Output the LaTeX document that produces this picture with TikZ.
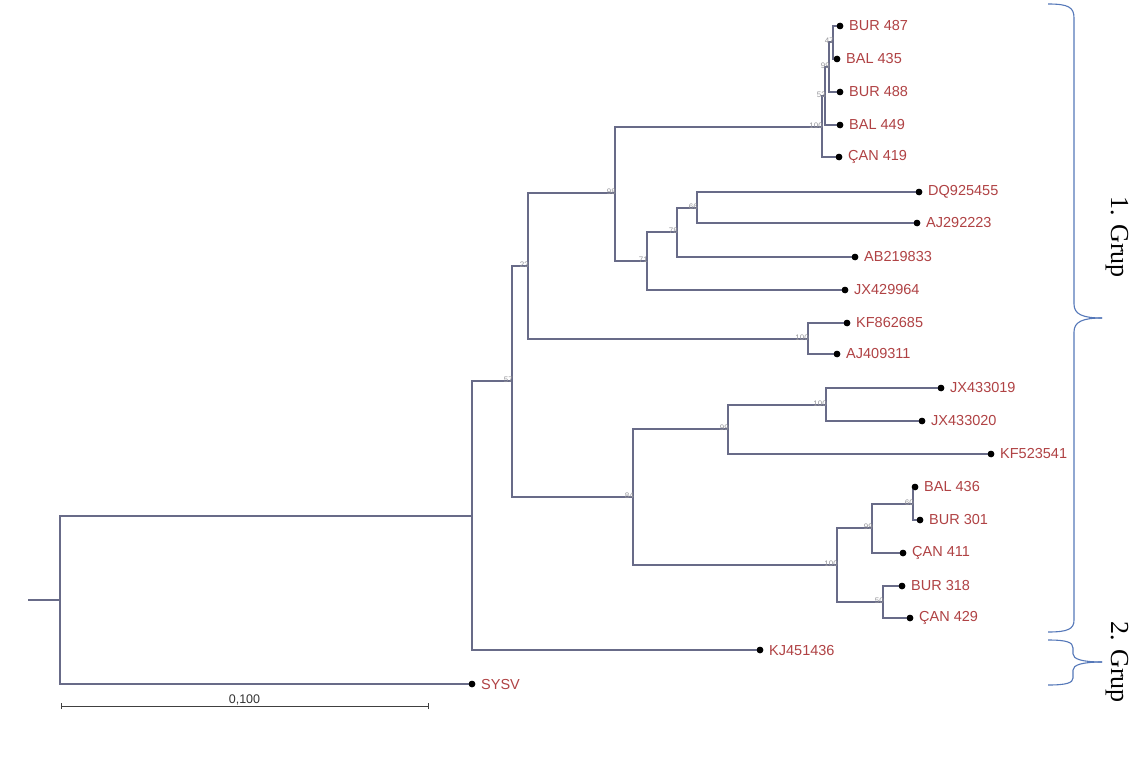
\documentclass[tikz,border=0pt]{standalone}
\usepackage{fontspec}
\setmainfont{Liberation Sans}
\newfontfamily\grpfont{Liberation Serif}
\usetikzlibrary{calc}
\definecolor{brc}{RGB}{104,107,136}
\definecolor{labc}{RGB}{176,66,68}
\definecolor{bootc}{RGB}{150,150,155}
\definecolor{bracec}{RGB}{85,120,185}
\tikzset{
  branch/.style={draw=brc, line width=1.05pt},
  leaf/.style={circle, fill=black, inner sep=0pt, minimum size=6.5pt},
  lab/.style={text=labc, font=\fontsize{14.5}{15}\selectfont, anchor=west, inner sep=0pt, xshift=9pt},
  boot/.style={text=bootc, font=\fontsize{8}{8}\selectfont, anchor=east, inner sep=0.5pt, xshift=1.5pt, yshift=1.5pt},
  grp/.style={font=\grpfont\fontsize{26}{26}\selectfont, rotate=-90, text=black},
  bracestyle/.style={draw=bracec, line width=1.1pt}
}
\begin{document}
\begin{tikzpicture}[x=1pt,y=-1pt]
\useasboundingbox[fill=white] (0,0) rectangle (1147,757);
% internal nodes
\coordinate (stub) at (28,600);
\coordinate (root) at (60,600);
\coordinate (A) at (472,516);
\coordinate (B) at (512,381);
\coordinate (C) at (528,266);
\coordinate (D) at (633,497);
\coordinate (E) at (615,193);
\coordinate (F) at (647,261);
\coordinate (G) at (677,232);
\coordinate (H) at (697,208);
\coordinate (T0) at (822,127);
\coordinate (P) at (825,96);
\coordinate (Q) at (829,67);
\coordinate (R) at (833,42);
\coordinate (KA) at (808,339);
\coordinate (I) at (728,429);
\coordinate (J) at (826,405);
\coordinate (K) at (837,565);
\coordinate (L) at (872,528);
\coordinate (M) at (913,504);
\coordinate (N) at (883,602);
% leaves
\node[leaf] (bur487) at (840,26) {};
\node[leaf] (bal435) at (837,59) {};
\node[leaf] (bur488) at (840,92) {};
\node[leaf] (bal449) at (840,125) {};
\node[leaf] (can419) at (839,157) {};
\node[leaf] (dq) at (919,192) {};
\node[leaf] (aj29) at (917,223) {};
\node[leaf] (ab) at (855,257) {};
\node[leaf] (jx42) at (845,290) {};
\node[leaf] (kf86) at (847,323) {};
\node[leaf] (aj40) at (837,354) {};
\node[leaf] (jx19) at (941,388) {};
\node[leaf] (jx20) at (922,421) {};
\node[leaf] (kf52) at (991,454) {};
\node[leaf] (bal436) at (915,487) {};
\node[leaf] (bur301) at (920,520) {};
\node[leaf] (can411) at (903,553) {};
\node[leaf] (bur318) at (902,586) {};
\node[leaf] (can429) at (910,618) {};
\node[leaf] (kj) at (760,650) {};
\node[leaf] (sysv) at (472,684) {};
% branches
\draw[branch] (stub) -- (root);
\draw[branch] (root) |- (A);
\draw[branch] (root) |- (sysv);
\draw[branch] (A) |- (B);
\draw[branch] (A) |- (kj);
\draw[branch] (B) |- (C);
\draw[branch] (B) |- (D);
\draw[branch] (C) |- (E);
\draw[branch] (C) |- (KA);
\draw[branch] (E) |- (T0);
\draw[branch] (E) |- (F);
\draw[branch] (T0) |- (P);
\draw[branch] (T0) |- (can419);
\draw[branch] (P) |- (Q);
\draw[branch] (P) |- (bal449);
\draw[branch] (Q) |- (R);
\draw[branch] (Q) |- (bur488);
\draw[branch] (R) |- (bur487);
\draw[branch] (R) |- (bal435);
\draw[branch] (F) |- (G);
\draw[branch] (F) |- (jx42);
\draw[branch] (G) |- (H);
\draw[branch] (G) |- (ab);
\draw[branch] (H) |- (dq);
\draw[branch] (H) |- (aj29);
\draw[branch] (KA) |- (kf86);
\draw[branch] (KA) |- (aj40);
\draw[branch] (D) |- (I);
\draw[branch] (D) |- (K);
\draw[branch] (I) |- (J);
\draw[branch] (I) |- (kf52);
\draw[branch] (J) |- (jx19);
\draw[branch] (J) |- (jx20);
\draw[branch] (K) |- (L);
\draw[branch] (K) |- (N);
\draw[branch] (L) |- (M);
\draw[branch] (L) |- (can411);
\draw[branch] (M) |- (bal436);
\draw[branch] (M) |- (bur301);
\draw[branch] (N) |- (bur318);
\draw[branch] (N) |- (can429);
% redraw leaves on top
\foreach \n in {bur487,bal435,bur488,bal449,can419,dq,aj29,ab,jx42,kf86,aj40,jx19,jx20,kf52,bal436,bur301,can411,bur318,can429,kj,sysv}
  \fill (\n) circle (3.25pt);
% leaf labels
\node[lab] (tbur487) at (bur487) {BUR 487};
\node[lab] (tbal435) at (bal435) {BAL 435};
\node[lab] (tbur488) at (bur488) {BUR 488};
\node[lab] (tbal449) at (bal449) {BAL 449};
\node[lab] (tcan419) at (can419) {ÇAN 419};
\node[lab] (tdq) at (dq) {DQ925455};
\node[lab] (taj29) at (aj29) {AJ292223};
\node[lab] (tab) at (ab) {AB219833};
\node[lab] (tjx42) at (jx42) {JX429964};
\node[lab] (tkf86) at (kf86) {KF862685};
\node[lab] (taj40) at (aj40) {AJ409311};
\node[lab] (tjx19) at (jx19) {JX433019};
\node[lab] (tjx20) at (jx20) {JX433020};
\node[lab] (tkf52) at (kf52) {KF523541};
\node[lab] (tbal436) at (bal436) {BAL 436};
\node[lab] (tbur301) at (bur301) {BUR 301};
\node[lab] (tcan411) at (can411) {ÇAN 411};
\node[lab] (tbur318) at (bur318) {BUR 318};
\node[lab] (tcan429) at (can429) {ÇAN 429};
\node[lab] (tkj) at (kj) {KJ451436};
\node[lab] (tsysv) at (sysv) {SYSV};
% bootstrap values
\node[boot] (bR) at (R) {47};
\node[boot] (bQ) at (Q) {99};
\node[boot] (bP) at (P) {53};
\node[boot] (bT0) at (T0) {100};
\node[boot] (bE) at (E) {98};
\node[boot] (bH) at (H) {66};
\node[boot] (bG) at (G) {78};
\node[boot] (bF) at (F) {71};
\node[boot] (bC) at (C) {23};
\node[boot] (bKA) at (KA) {100};
\node[boot] (bB) at (B) {57};
\node[boot] (bJ) at (J) {100};
\node[boot] (bI) at (I) {99};
\node[boot] (bD) at (D) {84};
\node[boot] (bM) at (M) {60};
\node[boot] (bL) at (L) {99};
\node[boot] (bK) at (K) {100};
\node[boot] (bN) at (N) {50};
% scale bar
\coordinate (sb1) at (61,706);
\coordinate (sb2) at (428,706);
\draw[draw=black!75, line width=0.9pt] (sb1) -- (sb2);
\draw[draw=black!75, line width=0.9pt] ([yshift=-3pt]sb1) -- ([yshift=3pt]sb1);
\draw[draw=black!75, line width=0.9pt] ([yshift=-3pt]sb2) -- ([yshift=3pt]sb2);
\node[font=\fontsize{12.5}{13}\selectfont, text=black!80, anchor=south, inner sep=1pt] (sblab) at ($(sb1)!0.5!(sb2)$) {0,100};
% braces
\draw[bracestyle] (1048,4) .. controls (1068,4) and (1074,7) .. (1074,18) -- (1074,304)
  .. controls (1074,314) and (1082,318) .. (1102,318);
\draw[bracestyle] (1102,318) .. controls (1082,318) and (1074,322) .. (1074,332) -- (1074,620)
  .. controls (1074,629) and (1068,632) .. (1048,632);
\draw[bracestyle] (1048,640) .. controls (1066,640) and (1073,642) .. (1073,648) -- (1073,654)
  .. controls (1073,659) and (1082,662) .. (1102,662);
\draw[bracestyle] (1102,662) .. controls (1082,662) and (1073,665) .. (1073,670) -- (1073,678)
  .. controls (1073,683) and (1066,685) .. (1048,685);
\node[grp] (g1) at (1117,237) {1. Grup};
\node[grp] (g2) at (1117,662) {2. Grup};
\end{tikzpicture}
\end{document}
